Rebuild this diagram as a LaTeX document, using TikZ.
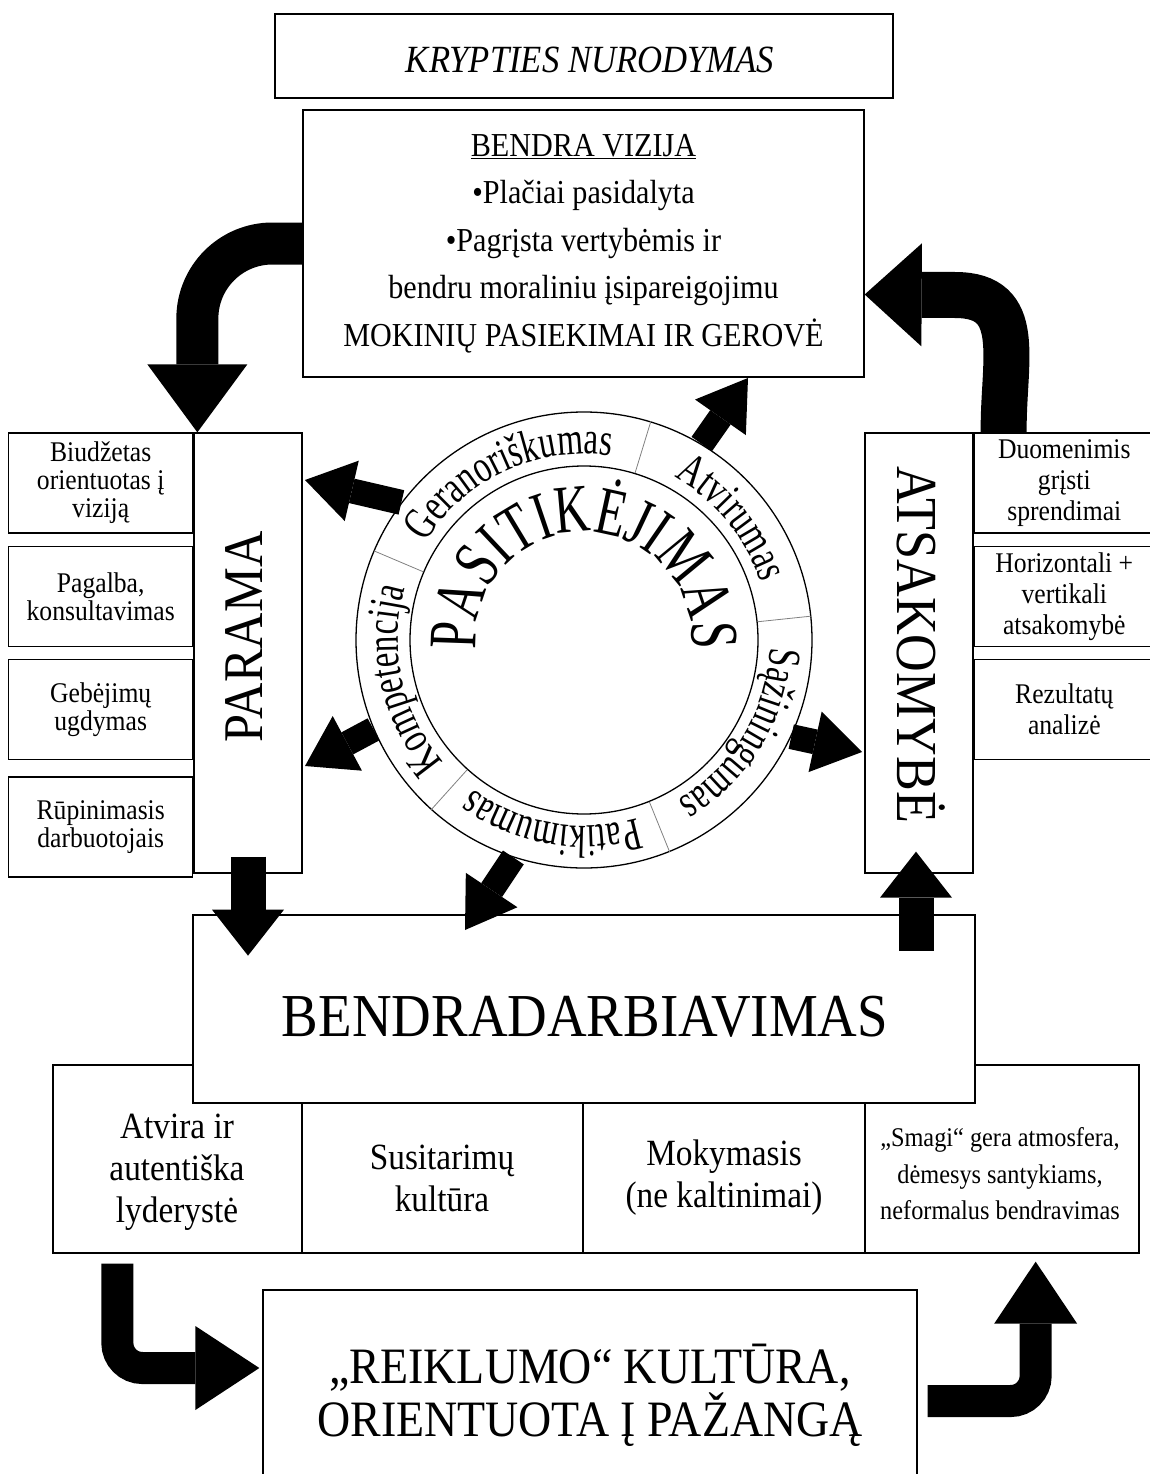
\documentclass[tikz,border=0pt]{standalone}
\usepackage{fontspec}
\setmainfont{Liberation Serif}[FakeStretch=0.9]
\newfontfamily\archfont{Liberation Serif}[FakeStretch=0.72]
\usetikzlibrary{positioning,arrows.meta,decorations.text}

\newcommand{\setfs}[2]{\fontsize{#1}{#2}\selectfont}
\newcommand{\ringfont}{\archfont\fontsize{46}{46}\selectfont}

\tikzset{
  box/.style={draw, line width=1.3pt, fill=white, inner sep=0pt},
  leftbox/.style={box, minimum width=184, minimum height=100, align=center, font=\setfs{28.5}{28}},
  rightbox/.style={box, minimum width=180, minimum height=100, align=center, font=\setfs{28.5}{31}},
  celltext/.style={align=center, font=\setfs{37}{42}},
  divider/.style={line width=1.3pt},
  blockarrow/.style n args={3}{line width=#1, -{Triangle[length=#2, width=#3, line width=0pt]}},
  radarrow/.style={blockarrow={25pt}{48pt}{62pt}},
}

\begin{document}
\begin{tikzpicture}[x=1pt, y=-1pt]
    \useasboundingbox (0,0) rectangle (1150,1474);

    % top
    \node[box, minimum width=618, minimum height=84, font=\setfs{38.5}{40}\itshape] (dir) at (584,56) {};
    \node[font=\setfs{38.5}{40}\itshape] (dirtxt) at (590,60) {KRYPTIES NURODYMAS};
    \node[box, minimum width=561, minimum height=267, align=center, font=\setfs{33.5}{47.5}] (vision) at (583.5,243.5)
        {\underline{BENDRA VIZIJA}\\•Plačiai pasidalyta\\•Pagrįsta vertybėmis ir\\bendru moraliniu įsipareigojimu\\MOKINIŲ PASIEKIMAI IR GEROVĖ};

    % side columns
    \node[box, minimum width=108, minimum height=440] (parama) at (248,653) {};
    \node[rotate=90, font=\setfs{56}{56}] (paramatxt) at (244,637) {PARAMA};
    \node[leftbox, anchor=north east] (l1) at (parama.north west) {Biudžetas\\orientuotas į\\viziją};
    \node[leftbox, below=12pt of l1] (l2) {Pagalba,\\konsultavimas};
    \node[leftbox, below=12pt of l2] (l3) {Gebėjimų\\ugdymas};
    \node[leftbox, below=16pt of l3] (l4) {Rūpinimasis\\darbuotojais};

    \node[box, minimum width=108, minimum height=440] (atsak) at (919,653) {};
    \node[rotate=-90, font=\setfs{58}{58}] (atsaktxt) at (921,645) {ATSAKOMYBĖ};
    \node[rightbox, anchor=north west] (r1) at (atsak.north east) {Duomenimis\\grįsti\\sprendimai};
    \node[rightbox, below=12pt of r1] (r2) {Horizontali +\\vertikali\\atsakomybė};
    \node[rightbox, below=12pt of r2] (r3) {Rezultatų\\analizė};

    % bottom
    \node[box, minimum width=1086, minimum height=188] (row) at (596,1159) {};
    \node[box, minimum width=782, minimum height=188] (bend) at (584,1009) {};
    \node[font=\setfs{61}{61}] (bendtxt) at (585,1017) {BENDRADARBIAVIMAS};
    \draw[divider] (302,1103) -- (302,1253);
    \draw[divider] (583,1103) -- (583,1253);
    \draw[divider] (865,1103) -- (865,1253);
    \node[celltext] (c1) at (177,1172) {Atvira ir\\autentiška\\lyderystė};
    \node[celltext] (c2) at (442,1178) {Susitarimų\\kultūra};
    \node[celltext] (c3) at (724,1178) {Mokymasis\\(ne kaltinimai)};
    \node[align=center, font=\setfs{27}{36.5}] (c4) at (1000,1174) {„Smagi“ gera atmosfera,\\dėmesys santykiams,\\neformalus bendravimas};
    \node[box, minimum width=654, minimum height=210, align=center, font=\setfs{51}{49}] (reik) at (590,1395)
        {„REIKLUMO“ KULTŪRA,\\ORIENTUOTA Į PAŽANGĄ};

    % trust ring
    \node[circle, draw, line width=1.3pt, minimum size=456] (ring) at (584,640) {};
    \node[circle, draw, line width=1.3pt, minimum size=348] (core) at (584,640) {};
    \foreach \a in {157,73,6,-68,-132}
        \draw[gray, line width=0.8pt] (core.\a) -- (ring.\a);
    \path[decorate, decoration={text along path, text align=center, text={|\ringfont|Geranoriškumas}}]
        ([shift={(-157:186)}]ring.center) arc[start angle=-157, end angle=-73, radius=186];
    \path[decorate, decoration={text along path, text align=center, text={|\ringfont|Atvirumas}}]
        ([shift={(-73:186)}]ring.center) arc[start angle=-73, end angle=-6, radius=186];
    \path[decorate, decoration={text along path, text align=center, text={|\ringfont|Sąžiningumas}}]
        ([shift={(-6:186)}]ring.center) arc[start angle=-6, end angle=68, radius=186];
    \path[decorate, decoration={text along path, text align=center, text={|\ringfont|Patikimumas}}]
        ([shift={(68:186)}]ring.center) arc[start angle=68, end angle=132, radius=186];
    \path[decorate, decoration={text along path, text align=center, text={|\ringfont|Kompetencija}}]
        ([shift={(132:186)}]ring.center) arc[start angle=132, end angle=203, radius=186];
    \path[decorate, decoration={text along path, text align=center, text={|\archfont\setfs{68}{68}|PASITIKĖJIMAS}}]
        ([shift={(-192:108)}]ring.center) arc[start angle=-192, end angle=12, radius=108];

    % arrows out of the ring
    \coordinate (tipA) at (748,378);
    \coordinate (tipB) at (305,480);
    \coordinate (tipC) at (305,766);
    \coordinate (tipD) at (862,752);
    \coordinate (tipE) at (465,930);
    \draw[radarrow] (ring.59) -- (tipA);
    \draw[radarrow] (ring.143) -- (tipB);
    \draw[radarrow] (ring.203) -- (tipC);
    \draw[radarrow] (ring.-25) -- (tipD);
    \draw[radarrow] (ring.-108) -- (tipE);

    % big arrows
    \draw[blockarrow={42pt}{68pt}{100pt}, rounded corners=75pt] (vision.west) -| ([xshift=4pt]parama.north west);
    \coordinate (ctop) at (955,295);
    \draw[blockarrow={46pt}{57pt}{103pt}] ([xshift=30pt]atsak.north east) .. controls (1003,360) and (1025,295) .. (ctop) -- ([yshift=-51pt]vision.east);
    \draw[blockarrow={35pt}{46pt}{72pt}] ([yshift=17pt]parama.south) -- ++(0,99);
    \draw[blockarrow={35pt}{46pt}{72pt}] ([xshift=-3pt]atsak.south) ++(0,77) -- ++(0,-99);
    \draw[blockarrow={32pt}{64pt}{84pt}, rounded corners=25pt] ([xshift=65pt,yshift=-10pt]row.south west) |- ([xshift=-3pt,yshift=27pt]reik.west);
    \draw[blockarrow={32pt}{62pt}{83pt}, rounded corners=25pt] ([xshift=10pt,yshift=-6pt]reik.east) -| ([xshift=-104pt,yshift=-8pt]row.south east);
\end{tikzpicture}
\end{document}
